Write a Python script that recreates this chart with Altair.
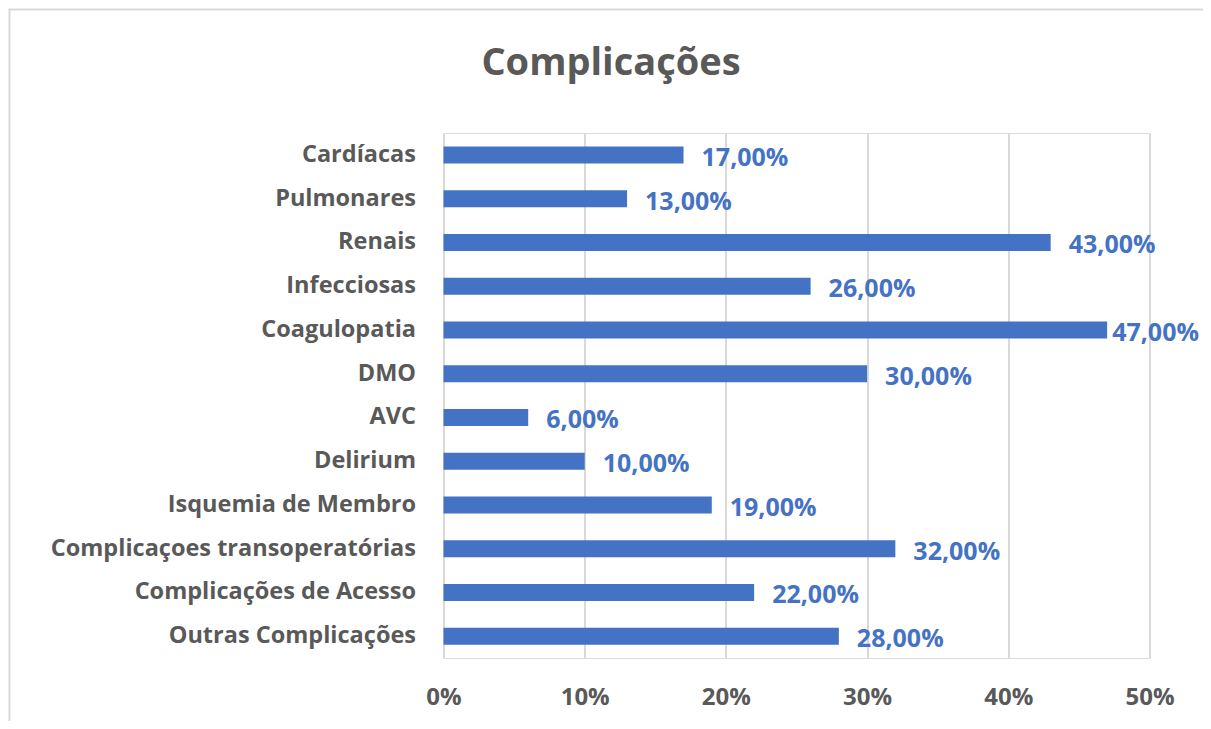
import altair as alt
import pandas as pd

title_text = "Complicações"
categories = ["Cardíacas", "Pulmonares", "Renais", "Infecciosas", "Coagulopatia", "DMO",
              "AVC", "Delirium", "Isquemia de Membro", "Complicaçoes transoperatórias",
              "Complicações de Acesso", "Outras Complicações"]
values = [0.17, 0.13, 0.43, 0.26, 0.47, 0.30, 0.06, 0.10, 0.19, 0.32, 0.22, 0.28]
labels = ["17,00%", "13,00%", "43,00%", "26,00%", "47,00%", "30,00%", "6,00%", "10,00%",
          "19,00%", "32,00%", "22,00%", "28,00%"]
x_ticks = [0, 0.1, 0.2, 0.3, 0.4, 0.5]

df = pd.DataFrame({"cat": categories, "val": values, "lab": labels})

FONT = "Open Sans"
GREY = "#595959"
BLUE = "#4472C4"

y_enc = alt.Y("cat:N", sort=categories, title=None,
              axis=alt.Axis(labelFont=FONT, labelFontSize=23.5, labelFontWeight="bold",
                            labelColor=GREY, labelPadding=28, ticks=False, domain=False,
                            grid=False, labelLimit=500))
x_enc = alt.X("val:Q", title=None,
              scale=alt.Scale(domain=[0, 0.5], nice=False),
              axis=alt.Axis(values=x_ticks, format=".0%", labelFont=FONT, labelFontSize=24,
                            labelFontWeight="bold", labelColor=GREY, labelPadding=27,
                            labelFlush=False, ticks=False, domain=False, grid=True,
                            gridColor="#D9D9D9", gridWidth=2))

base = alt.Chart(df)
bars = base.mark_bar(color=BLUE, size=17).encode(x=x_enc, y=y_enc)
txt_common = dict(align="left", baseline="middle", dy=3, font=FONT, fontSize=25,
                  fontWeight="bold", color=BLUE)
text1 = base.transform_filter("datum.val < 0.45").mark_text(dx=18, **txt_common).encode(
    x="val:Q", y=alt.Y("cat:N", sort=categories), text="lab:N")
text2 = base.transform_filter("datum.val >= 0.45").mark_text(dx=5, **txt_common).encode(
    x="val:Q", y=alt.Y("cat:N", sort=categories), text="lab:N")

one = pd.DataFrame({"t": [title_text]})
title = alt.Chart(one).mark_text(
    font=FONT, fontSize=38, fontWeight="bold", color=GREY, align="center",
    baseline="alphabetic").encode(x=alt.value(167.5), y=alt.value(-58), text="t:N")

frame_left = alt.Chart(one).mark_rule(
    color="#D9D9D9", strokeWidth=2, clip=False).encode(
    x=alt.value(-434), y=alt.value(-124), y2=alt.value(600))
frame_top = alt.Chart(one).mark_rule(
    color="#D9D9D9", strokeWidth=2, clip=False).encode(
    y=alt.value(-123.5), x=alt.value(-435), x2=alt.value(800))

chart = alt.layer(bars, text1, text2, title, frame_left, frame_top).properties(
    width=706, height=525,
    autosize=alt.AutoSizeParams(type="none"),
    padding={"left": 435.5, "top": 125, "right": 53.5, "bottom": 63},
).configure_view(stroke=None).configure(background="white")

chart.save("out.html", embed_options={"renderer": "svg", "actions": False})
